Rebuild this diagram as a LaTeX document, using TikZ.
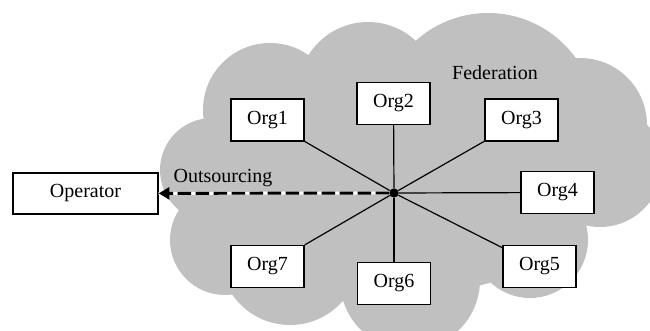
\documentclass[tikz,border=0pt]{standalone}
\usepackage{fontspec}
\setmainfont{Liberation Serif}
\usepackage{tikz}
\usetikzlibrary{arrows.meta,positioning}
\definecolor{cloudgray}{RGB}{192,192,192}

\begin{document}
\begin{tikzpicture}[x=0.75pt,y=-0.75pt,
    every node/.style={font=\fontsize{15}{18}\selectfont},
    org/.style={draw,fill=white,line width=1.1pt,minimum width=54.75pt,minimum height=31.5pt,inner sep=0pt},
    spoke/.style={line width=0.9pt}]
  \clip (0,0) rectangle (650,331);
  % the federation cloud
  \fill[cloudgray] (212,170) circle (52) (270,110) circle (67) (368,92) circle (70)
    (488,121) circle (108) (580,125) circle (67) (600,165) circle (62)
    (530,240) circle (58) (410,280) circle (70) (225,240) circle (55)
    (290,255) circle (70) (400,180) ellipse (200 and 115);
  \node (fed) at (495,73) {Federation};
  \node[org] (org1) at (267.5,120) {Org1};
  \node[org] (org2) at (393.5,103.5) {Org2};
  \node[org] (org3) at (521.5,120) {Org3};
  \node[org] (org4) at (557.5,192.5) {Org4};
  \node[org] (org5) at (539.5,266.5) {Org5};
  \node[org] (org6) at (394,283.5) {Org6};
  \node[org] (org7) at (267.5,266.5) {Org7};
  \node[org,minimum width=108.75pt,minimum height=30.75pt] (op) at (85.5,193.5) {Operator};
  \node[circle,fill,inner sep=0pt,minimum size=7pt] (hub) at (394,193) {};
  \draw[spoke] (hub) -- (org1);
  \draw[spoke] (hub) -- (org2);
  \draw[spoke] (hub) -- (org3);
  \draw[spoke] (hub) -- (org4);
  \draw[spoke] (hub) -- (org5);
  \draw[spoke] (hub) -- (org6);
  \draw[spoke] (hub) -- (org7);
  % outsourcing link
  \draw[white,line width=2.2pt] (hub) -- (op);
  \draw[line width=2.2pt,dash pattern=on 10pt off 3.5pt,-{Triangle[length=8pt,width=9pt]}] (hub) -- (op);
  \node (outs) at (223,178) {Outsourcing};
\end{tikzpicture}
\end{document}
